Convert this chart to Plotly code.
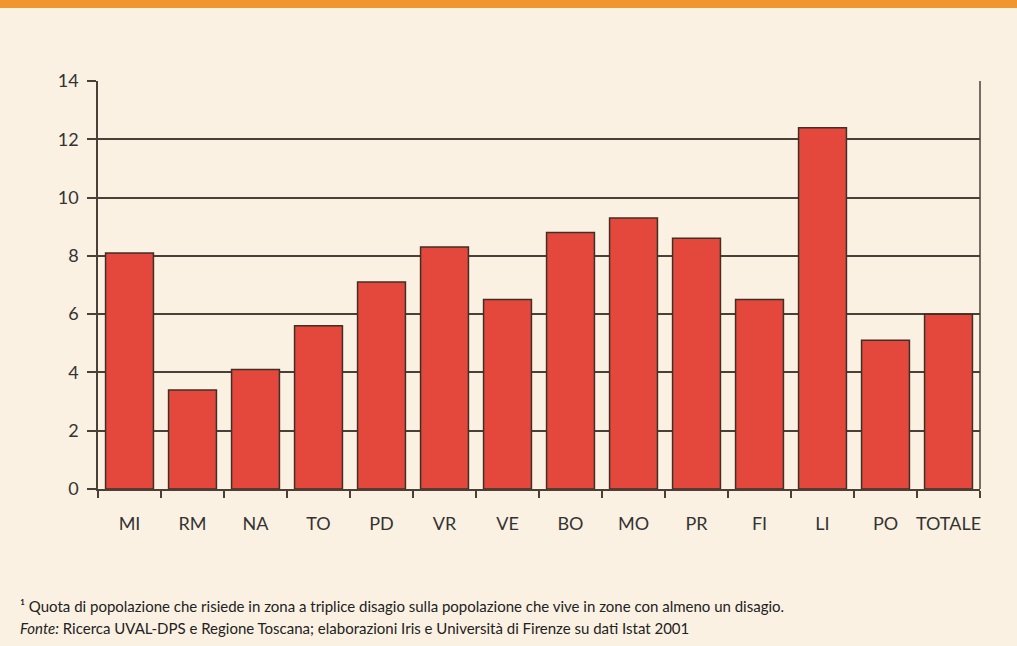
import plotly.graph_objects as go

categories = ["MI", "RM", "NA", "TO", "PD", "VR", "VE", "BO", "MO", "PR", "FI", "LI", "PO", "TOTALE"]
values = [8.1, 3.4, 4.1, 5.6, 7.1, 8.3, 6.5, 8.8, 9.3, 8.6, 6.5, 12.4, 5.1, 6.0]
y_ticks = [0, 2, 4, 6, 8, 10, 12, 14]

BG = "#FBF1E2"
LINE = "#4A4038"
FONT = "Lato, 'Open Sans', sans-serif"

fig = go.Figure()
fig.add_trace(go.Bar(
    x=categories, y=values,
    marker=dict(color="#E4473B", line=dict(color="#3E3027", width=1.5)),
    width=0.76,
))

fig.update_layout(
    width=1017, height=646,
    paper_bgcolor=BG, plot_bgcolor=BG,
    margin=dict(l=98, r=37, t=81, b=157),
    showlegend=False,
    font=dict(family=FONT, color="#333333"),
    xaxis=dict(
        tickson="boundaries", ticks="outside", ticklen=7, tickwidth=1.5, tickcolor=LINE,
        showline=True, linecolor=LINE, linewidth=1.5, tickangle=0,
        showgrid=False, tickfont=dict(size=18, color="#333333"),
        ticklabelstandoff=18,
    ),
    yaxis=dict(
        range=[0, 14], tickvals=y_ticks, ticks="outside", ticklen=9, tickwidth=1.5, tickcolor=LINE,
        showline=True, linecolor=LINE, linewidth=1.5, mirror=False,
        showgrid=True, gridcolor=LINE, gridwidth=1.5, zeroline=False,
        tickfont=dict(size=18, color="#333333"), ticklabelstandoff=5,
    ),
    shapes=[
        dict(type="rect", xref="paper", yref="paper", x0=-0.2, x1=1.1, y0=1.179, y1=1.3,
             fillcolor="#F0962F", line=dict(width=0), layer="above"),
        dict(type="line", xref="paper", yref="y", x0=1, x1=1, y0=0, y1=14,
             line=dict(color=LINE, width=1.5)),
    ],
    annotations=[
        dict(xref="paper", yref="paper", x=-0.0907, y=-0.287, xanchor="left", yanchor="middle",
             showarrow=False, align="left",
             text="¹ Quota di popolazione che risiede in zona a triplice disagio sulla popolazione che vive in zone con almeno un disagio.",
             font=dict(size=15, color="#222222")),
        dict(xref="paper", yref="paper", x=-0.0907, y=-0.341, xanchor="left", yanchor="middle",
             showarrow=False, align="left",
             text="<i>Fonte:</i> Ricerca UVAL-DPS e Regione Toscana; elaborazioni Iris e Università di Firenze su dati Istat 2001",
             font=dict(size=15, color="#222222")),
    ],
)

fig.write_html("out.html", config={"displayModeBar": False},
               post_script="document.body.style.margin='0';document.body.style.background='#FBF1E2';")
